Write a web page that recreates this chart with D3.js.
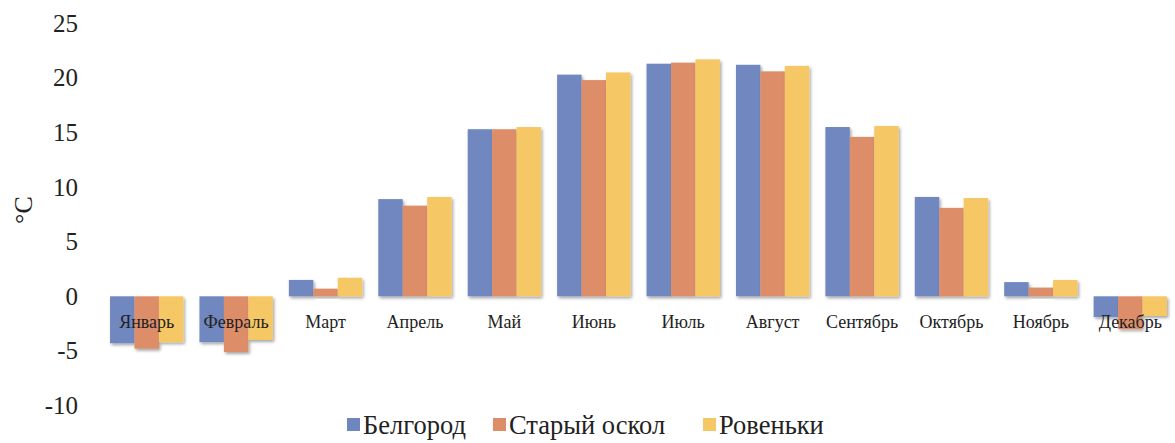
<!DOCTYPE html>
<html><head><meta charset="utf-8">
<script src="https://cdn.jsdelivr.net/npm/d3@7"></script>
<style>body{margin:0;background:#fff}svg{display:block}text{font-family:"Liberation Serif","Times New Roman",serif}</style>
</head><body>
<svg id="chart" width="1175" height="443"></svg>
<script>
const months = ["Январь","Февраль","Март","Апрель","Май","Июнь","Июль","Август","Сентябрь","Октябрь","Ноябрь","Декабрь"];
const seriesNames = ["Белгород","Старый оскол","Ровеньки"];
const belgorod = [-4.3,-4.2,1.5,8.9,15.3,20.3,21.3,21.2,15.5,9.1,1.3,-1.9];
const staryOskol = [-4.8,-5.1,0.7,8.3,15.3,19.8,21.4,20.6,14.6,8.1,0.8,-3.0];
const rovenki = [-4.2,-4.0,1.7,9.1,15.5,20.5,21.7,21.1,15.6,9.0,1.5,-1.8];
const yTicks = [-10,-5,0,5,10,15,20,25];
const colors = ["#6f87bf","#de8d69","#f6c765"];
const seriesValues = [belgorod, staryOskol, rovenki];

const svg = d3.select("#chart");
const defs = svg.append("defs");
const f = defs.append("filter").attr("id","sh").attr("x","-20%").attr("y","-20%").attr("width","150%").attr("height","150%");
f.append("feDropShadow").attr("dx",1.5).attr("dy",2).attr("stdDeviation",1.8).attr("flood-color","#000").attr("flood-opacity",0.35);

const y = d3.scaleLinear().domain([-10,25]).range([405.5,23.3]);
const x = d3.scaleBand().domain(months).range([102,1175]).paddingInner(0.18).paddingOuter(0.09);
const xs = d3.scaleBand().domain(seriesNames).range([0,x.bandwidth()]);

const yAxis = d3.axisLeft(y).tickValues(yTicks).tickSize(0).tickPadding(0).tickFormat(d => String(d));
const ga = svg.append("g").attr("transform","translate(78,0)").call(yAxis);
ga.select(".domain").remove();
ga.attr("font-family",null);
ga.selectAll("text").attr("font-size",25).attr("fill","#222").attr("dy","0.32em");

svg.append("text").attr("transform","translate(32,210) rotate(-90)").attr("text-anchor","middle")
  .attr("font-size",26).attr("fill","#222").text("°C");

const groups = svg.append("g").selectAll("g").data(months).join("g")
  .attr("transform", d => `translate(${x(d)},0)`);
groups.selectAll("rect").data((m,i) => seriesNames.map((s,j) => ({s, j, v: seriesValues[j][i]})))
  .join("rect")
  .attr("x", d => xs(d.s)).attr("width", xs.bandwidth())
  .attr("y", d => Math.min(y(d.v), y(0)))
  .attr("height", d => Math.abs(y(d.v) - y(0)))
  .attr("fill", d => colors[d.j])
  .attr("filter","url(#sh)");

const xAxis = d3.axisBottom(x).tickSize(0).tickPadding(0);
const gx = svg.append("g").attr("transform","translate(0,322)").call(xAxis);
gx.select(".domain").remove();
gx.attr("font-family",null);
gx.selectAll("text").attr("font-size",18).attr("fill","#222").attr("dy","0.32em");

const legendX = [347, 493, 703];
const lg = svg.append("g").selectAll("g").data(seriesNames).join("g")
  .attr("transform",(d,i)=>`translate(${legendX[i]},425)`);
lg.append("rect").attr("x",0).attr("y",-7).attr("width",13).attr("height",13).attr("fill",(d,i)=>colors[i]);
lg.append("text").attr("x",16).attr("dy","0.35em").attr("font-size",26.5).attr("fill","#222").text(d=>d);
</script>
</body></html>
